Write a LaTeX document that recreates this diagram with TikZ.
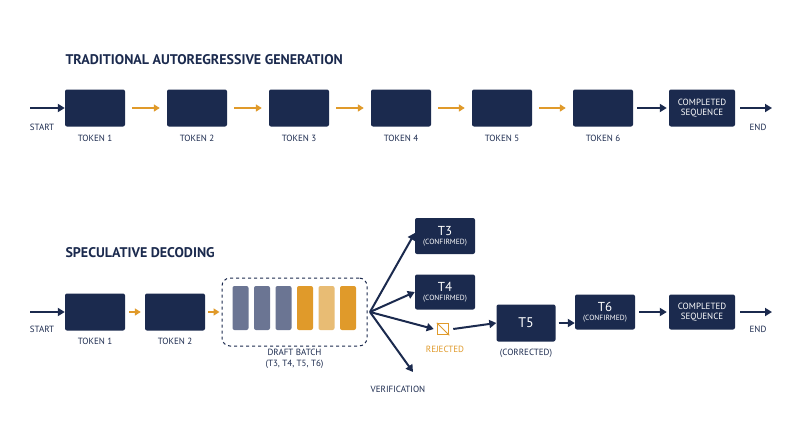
\documentclass[tikz,border=0pt]{standalone}
\usepackage{fontspec}
\setmainfont{PT Sans}
\usetikzlibrary{arrows.meta}
\definecolor{navy}{HTML}{1B2A4E}
\definecolor{org}{HTML}{E09A2A}
\definecolor{lorg}{HTML}{E8BC74}
\definecolor{slate}{HTML}{6B7593}
\begin{document}
\begin{tikzpicture}[x=1pt,y=-1pt,
 tok/.style={fill=navy,rounded corners=2pt,minimum width=60pt,minimum height=37pt,inner sep=0pt,text=white,align=center,font=\fontsize{9}{10}\selectfont},
 lab/.style={text=navy,font=\fontsize{9}{11}\selectfont,align=center},
 na/.style={draw=navy,line width=2pt,-{Triangle[length=7pt,width=8pt]}},
 oa/.style={draw=org,line width=2pt,-{Triangle[length=6pt,width=7pt]}},
 bar/.style={rounded corners=2pt,minimum width=16pt,minimum height=44pt,inner sep=0pt},
 title/.style={text=navy,font=\bfseries\fontsize{14}{16}\selectfont,anchor=west}]
\useasboundingbox (0,0) rectangle (800,447);
\fill[white] (0,0) rectangle (800,447);
\node[title] (t1) at (62,60) {TRADITIONAL AUTOREGRESSIVE GENERATION};
\coordinate (s1) at (30,108);
\node[lab] (st1) at (42,127) {START};
\foreach \i/\x in {1/95,2/197,3/299,4/401,5/502,6/603}{
 \node[tok] (a\i) at (\x,108) {};
 \node[lab] (al\i) at (\x,138) {TOKEN \i};}
\node[tok,minimum width=66pt] (ac) at (702,108) {COMPLETED\\SEQUENCE};
\coordinate (e1) at (772,108);
\node[lab] (en1) at (758,127) {END};
\draw[na] (s1) -- (a1);
\foreach \i/\j in {1/2,2/3,3/4,4/5,5/6}{\draw[oa] ([xshift=7pt]a\i.east) -- ([xshift=-7pt]a\j.west);}
\draw[na] ([xshift=4pt]a6.east) -- ([xshift=-2pt]ac.west);
\draw[na] ([xshift=5pt]ac.east) -- (e1);

\node[title] (t2) at (62,253) {SPECULATIVE DECODING};
\coordinate (s2) at (30,312);
\node[lab] (st2) at (42,329) {START};
\node[tok] (b1) at (95,312) {};
\node[tok] (b2) at (175,312) {};
\node[lab] (bl1) at (95,341) {TOKEN 1};
\node[lab] (bl2) at (175,341) {TOKEN 2};
\node[draw=navy,dashed,line width=1pt,rounded corners=8pt,minimum width=145pt,minimum height=68pt] (db) at (294.5,312) {};
\foreach \i/\x/\c in {1/240.5/slate,2/262/slate,3/283.5/slate,4/305/org,5/326.5/lorg,6/348/org}{
 \node[bar,fill=\c] (d\i) at (\x,308) {};}
\node[lab] (dl) at (294.5,359) {DRAFT BATCH\\(T3, T4, T5, T6)};
\draw[na] (s2) -- (b1);
\draw[oa] ([xshift=4pt]b1.east) -- ([xshift=-4pt]b2.west);
\draw[oa] ([xshift=3pt]b2.east) -- ([xshift=-2pt]db.west);
\coordinate (f) at (370,312);
\node[tok,minimum height=36pt] (c3) at (445,236) {{\fontsize{13}{14}\selectfont T3}\\[-1pt]{\fontsize{7.5}{8}\selectfont (CONFIRMED)}};
\node[tok,minimum height=35pt] (c4) at (445,292) {{\fontsize{13}{14}\selectfont T4}\\[-1pt]{\fontsize{7.5}{8}\selectfont (CONFIRMED)}};
\node[draw=org,line width=1.5pt,minimum size=11pt,inner sep=0pt] (rj) at (443,329) {};
\draw[org,line width=1pt] (rj.north west) -- (rj.south east);
\node[text=org,font=\fontsize{9}{10}\selectfont] (rl) at (445,349) {REJECTED};
\coordinate (v) at (413,372);
\node[lab] (vl) at (398,389) {VERIFICATION};
\draw[na] (f) -- ([yshift=3pt]c3.west);
\draw[na] (f) -- (c4.west);
\draw[na] (f) -- ([xshift=-3pt]rj.west);
\draw[na] (f) -- (v);
\node[tok,minimum width=59pt] (c5) at (526,323) {\fontsize{14}{15}\selectfont T5};
\node[lab] (c5l) at (526,353) {(CORRECTED)};
\node[tok,minimum height=35pt] (c6) at (605,312) {{\fontsize{13}{14}\selectfont T6}\\[-1pt]{\fontsize{7.5}{8}\selectfont (CONFIRMED)}};
\node[tok,minimum width=66pt,minimum height=35pt] (bc) at (702,312) {COMPLETED\\SEQUENCE};
\coordinate (e2) at (772,312);
\node[lab] (en2) at (758,329) {END};
\draw[na] ([xshift=4pt]rj.east) -- (c5.west);
\draw[na] ([xshift=3pt]c5.east) -- (c5.east -| c6.west);
\draw[na] ([xshift=4pt]c6.east) -- ([xshift=-2pt]bc.west);
\draw[na] ([xshift=5pt]bc.east) -- (e2);
\end{tikzpicture}
\end{document}
